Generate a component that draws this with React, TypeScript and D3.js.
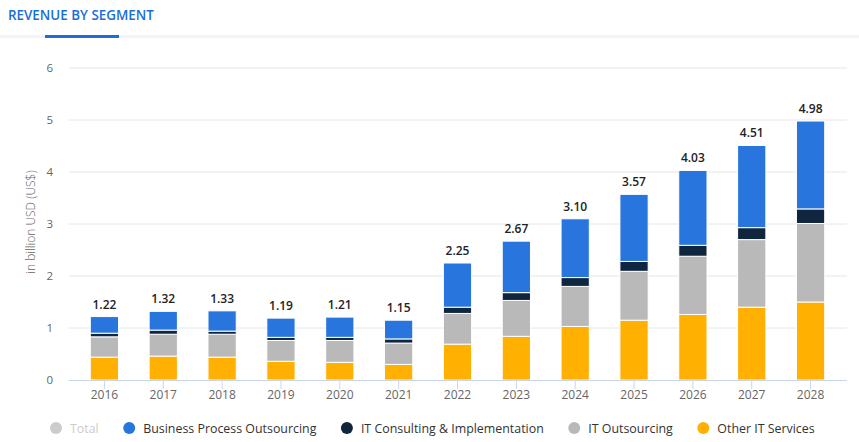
import React, { useEffect, useRef } from "react";
import * as d3 from "d3";

const years = ["2016","2017","2018","2019","2020","2021","2022","2023","2024","2025","2026","2027","2028"];
const otherIT = [0.44,0.46,0.44,0.36,0.34,0.30,0.69,0.84,1.03,1.15,1.26,1.40,1.50];
const itOutsourcing = [0.39,0.42,0.44,0.40,0.42,0.41,0.59,0.69,0.77,0.94,1.12,1.30,1.51];
const itConsulting = [0.07,0.08,0.06,0.06,0.06,0.08,0.12,0.15,0.17,0.19,0.21,0.23,0.28];
const bpo = [0.32,0.36,0.39,0.37,0.39,0.36,0.85,0.99,1.13,1.29,1.44,1.58,1.69];
const totals = ["1.22","1.32","1.33","1.19","1.21","1.15","2.25","2.67","3.10","3.57","4.03","4.51","4.98"];
const yTicks = [0,1,2,3,4,5,6];
const seriesColors = ["#ffb000","#b9b9b9","#10263f","#2876dd"];
const legendNames = ["Total","Business Process Outsourcing","IT Consulting & Implementation","IT Outsourcing","Other IT Services"];
const legendColors = ["#cccccc","#2876dd","#10263f","#b9b9b9","#ffb000"];

const W = 859, H = 442;
const FONT = "'Open Sans', sans-serif";

export default function App() {
  const ref = useRef<SVGSVGElement>(null);
  useEffect(() => {
    const svg = d3.select(ref.current);
    svg.selectAll("*").remove();

    // header
    svg.append("text").attr("x", 8).attr("y", 19.5).attr("font-family", FONT)
      .attr("font-size", 13.4).attr("font-weight", 600).attr("fill", "#1a6ed8")
      .text("REVENUE BY SEGMENT");
    svg.append("rect").attr("x", 0).attr("y", 35).attr("width", W).attr("height", 3).attr("fill", "#f1f3f6");
    svg.append("rect").attr("x", 45).attr("y", 35).attr("width", 74).attr("height", 3).attr("fill", "#1a6ed8");

    const x = d3.scaleBand<string>().domain(years).range([75, 840]).paddingInner(0.52).paddingOuter(0.26);
    const y = d3.scaleLinear().domain([0, 6]).range([380, 68]);

    // grid
    const g = svg.append("g");
    g.selectAll("line.grid").data(yTicks.filter(t => t > 0)).join("line")
      .attr("x1", 69).attr("x2", 847).attr("y1", d => y(d)).attr("y2", d => y(d))
      .attr("stroke", "#e6e6e6").attr("stroke-width", 1);
    g.selectAll("text.yt").data(yTicks).join("text")
      .attr("x", 53).attr("y", d => y(d) + 4).attr("text-anchor", "end")
      .attr("font-family", FONT).attr("font-size", 11.5).attr("fill", "#666")
      .text(d => String(d));
    svg.append("text").attr("transform", `translate(35,222) rotate(-90)`)
      .attr("text-anchor", "middle").attr("font-family", FONT).attr("font-size", 12)
      .attr("font-weight", 300).attr("fill", "#666").text("in billion USD (US$)");

    // bars
    const rows = years.map((yr, i) => ({ year: yr, s0: otherIT[i], s1: itOutsourcing[i], s2: itConsulting[i], s3: bpo[i] }));
    const stack = d3.stack<any>().keys(["s0", "s1", "s2", "s3"])(rows);
    stack.forEach((layer, k) => {
      svg.append("g").selectAll("rect").data(layer).join("rect")
        .attr("x", d => x(d.data.year)!)
        .attr("width", x.bandwidth())
        .attr("y", d => y(d[1]))
        .attr("height", d => y(d[0]) - y(d[1]))
        .attr("fill", seriesColors[k])
        .attr("stroke", "#fff").attr("stroke-width", 1);
    });

    // axis line + ticks
    svg.append("line").attr("x1", 69).attr("x2", 847).attr("y1", 380.5).attr("y2", 380.5)
      .attr("stroke", "#ccd6eb").attr("stroke-width", 1);
    svg.append("g").selectAll("line").data(years).join("line")
      .attr("x1", d => x(d)! + x.bandwidth() / 2).attr("x2", d => x(d)! + x.bandwidth() / 2)
      .attr("y1", 380).attr("y2", 389).attr("stroke", "#ccd6eb");
    svg.append("g").selectAll("text").data(years).join("text")
      .attr("x", d => x(d)! + x.bandwidth() / 2).attr("y", 398.5).attr("text-anchor", "middle")
      .attr("font-family", FONT).attr("font-size", 12).attr("fill", "#666").text(d => d);

    // totals
    svg.append("g").selectAll("text").data(years).join("text")
      .attr("x", d => x(d)! + x.bandwidth() / 2)
      .attr("y", (d, i) => y(otherIT[i] + itOutsourcing[i] + itConsulting[i] + bpo[i]) - 8)
      .attr("text-anchor", "middle").attr("font-family", FONT).attr("font-size", 12)
      .attr("font-weight", 600).attr("fill", "#222").text((d, i) => totals[i]);

    // legend
    let cx = 56;
    const lg = svg.append("g");
    legendNames.forEach((name, i) => {
      lg.append("circle").attr("cx", cx).attr("cy", 428).attr("r", 6).attr("fill", legendColors[i]);
      const t = lg.append("text").attr("x", cx + 14).attr("y", 432.5)
        .attr("font-family", FONT).attr("font-size", 12.4)
        .attr("fill", i === 0 ? "#cccccc" : "#333").text(name);
      const w = (t.node() as SVGTextElement).getComputedTextLength();
      cx = cx + 14 + w + 30.5;
    });
  }, []);
  return (
    <svg ref={ref} width={W} height={H} style={{ position: "absolute", left: 0, top: 0, background: "#fff" }} />
  );
}
